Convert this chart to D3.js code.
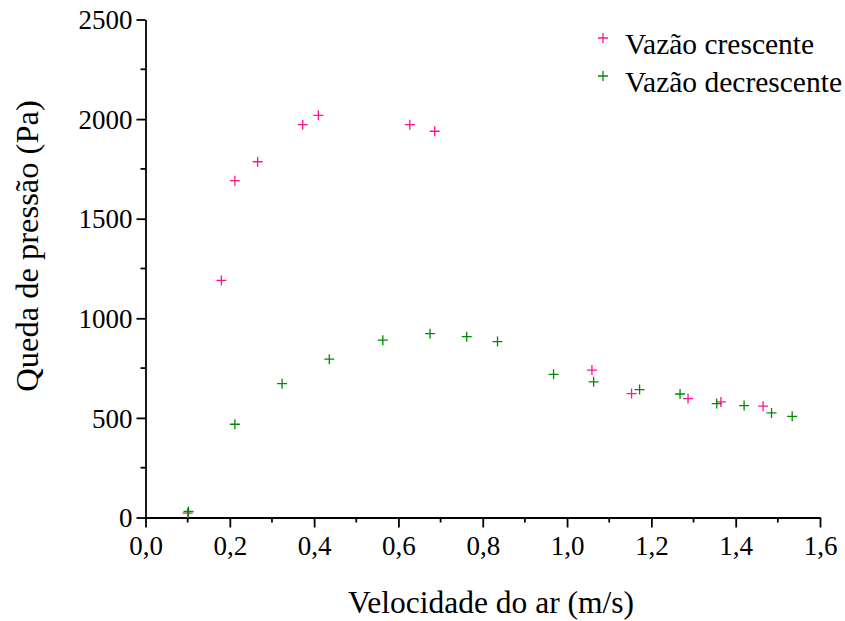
<!DOCTYPE html>
<html>
<head>
<meta charset="utf-8">
<script src="https://cdn.jsdelivr.net/npm/d3@7"></script>
<style>
  body { margin: 0; background: #fff; }
  svg text { font-family: "Liberation Serif", "DejaVu Serif", serif; fill: #000; }
</style>
</head>
<body>
<svg></svg>
<script>
//data
var crescenteVel = [0.10, 0.18, 0.212, 0.266, 0.373, 0.41, 0.627, 0.686, 1.059, 1.153, 1.287, 1.365, 1.465];
var crescentePa = [22, 1190, 1691, 1786, 1972, 2019, 1972, 1939, 740, 622, 597, 580, 559];

var decrescenteVel = [0.102, 0.212, 0.324, 0.436, 0.563, 0.675, 0.762, 0.835, 0.968, 1.063, 1.172, 1.268, 1.355, 1.42, 1.485, 1.534];
var decrescentePa = [30, 468, 672, 795, 890, 923, 908, 883, 719, 681, 642, 620, 572, 562, 525, 508];

var seriesNames = ["Vazão crescente", "Vazão decrescente"];
var seriesColors = ["#ff1493", "#008a00"];

var xTicks = [0, 0.2, 0.4, 0.6, 0.8, 1.0, 1.2, 1.4, 1.6];
var yTicks = [0, 500, 1000, 1500, 2000, 2500];

var makeTranslateString = function (x, y) {
  return "translate(" + x + "," + y + ")";
};

var screen = { width: 845, height: 621 };
var margins = { left: 145.5, top: 19.5 };
var graph = { width: 674.5, height: 498 };

var svg = d3.select("svg").attr("width", screen.width).attr("height", screen.height);

var xScale = d3.scaleLinear().domain([0, 1.6]).range([0, graph.width]);
var yScale = d3.scaleLinear().domain([0, 2500]).range([graph.height, 0]);

var plot = svg.append("g").attr("transform", makeTranslateString(margins.left, margins.top));

//minor ticks first, then major axes over them
var xMinor = d3.range(0.1, 1.6, 0.2);
var yMinor = d3.range(250, 2500, 500);

plot.append("g")
  .attr("transform", makeTranslateString(0, graph.height))
  .selectAll("line")
  .data(xMinor)
  .enter()
  .append("line")
  .attr("x1", function (d) { return xScale(d); })
  .attr("x2", function (d) { return xScale(d); })
  .attr("y1", 0)
  .attr("y2", 5)
  .attr("stroke", "#000")
  .attr("stroke-width", 1.8);

plot.append("g")
  .selectAll("line")
  .data(yMinor)
  .enter()
  .append("line")
  .attr("x1", 0)
  .attr("x2", -5)
  .attr("y1", function (d) { return yScale(d); })
  .attr("y2", function (d) { return yScale(d); })
  .attr("stroke", "#000")
  .attr("stroke-width", 1.8);

var xAxis = d3.axisBottom(xScale)
  .tickValues(xTicks)
  .tickSize(10)
  .tickPadding(8)
  .tickSizeOuter(0)
  .tickFormat(function (d) { return d3.format(".1f")(d).replace(".", ","); });

var yAxis = d3.axisLeft(yScale)
  .tickValues(yTicks)
  .tickSize(9)
  .tickPadding(4)
  .tickSizeOuter(0)
  .tickFormat(d3.format("d"));

var gx = plot.append("g")
  .attr("transform", makeTranslateString(0, graph.height))
  .call(xAxis);

var gy = plot.append("g").call(yAxis);

[gx, gy].forEach(function (g) {
  g.selectAll("path, line").attr("stroke", "#000").attr("stroke-width", 1.8);
  g.selectAll("text").style("font-size", "27px").attr("fill", "#000");
});
gy.selectAll("text").attr("dy", "0.34em");

//plus markers
var drawPlus = function (target, xs, ys, color) {
  var pts = xs.map(function (x, i) { return { x: x, y: ys[i] }; });
  var marks = target.append("g")
    .selectAll("path")
    .data(pts)
    .enter()
    .append("path")
    .attr("d", function (p) {
      var cx = xScale(p.x), cy = yScale(p.y), s = 5;
      return "M" + (cx - s) + "," + cy + "H" + (cx + s) + "M" + cx + "," + (cy - s) + "V" + (cy + s);
    })
    .attr("stroke", color)
    .attr("stroke-width", 1.3)
    .attr("fill", "none");
  return marks;
};

drawPlus(plot, crescenteVel, crescentePa, seriesColors[0]);
drawPlus(plot, decrescenteVel, decrescentePa, seriesColors[1]);

//labels
svg.append("text")
  .attr("text-anchor", "middle")
  .attr("x", 491)
  .attr("y", 613)
  .style("font-size", "31.5px")
  .text("Velocidade do ar (m/s)");

svg.append("text")
  .attr("text-anchor", "middle")
  .attr("transform", "translate(38,246) rotate(-90)")
  .style("font-size", "32.5px")
  .text("Queda de pressão (Pa)");

//legend
var legend = svg.append("g").attr("transform", makeTranslateString(603, 38));
var entries = legend.selectAll("g")
  .data(seriesNames)
  .enter()
  .append("g")
  .attr("transform", function (d, i) { return "translate(0," + i * 38 + ")"; });

entries.append("path")
  .attr("d", "M-5,0H5M0,-5V5")
  .attr("stroke", function (d, i) { return seriesColors[i]; })
  .attr("stroke-width", 1.3);

entries.append("text")
  .attr("x", 22)
  .attr("y", 16)
  .style("font-size", "29.5px")
  .text(function (d) { return d; });
</script>
</body>
</html>
